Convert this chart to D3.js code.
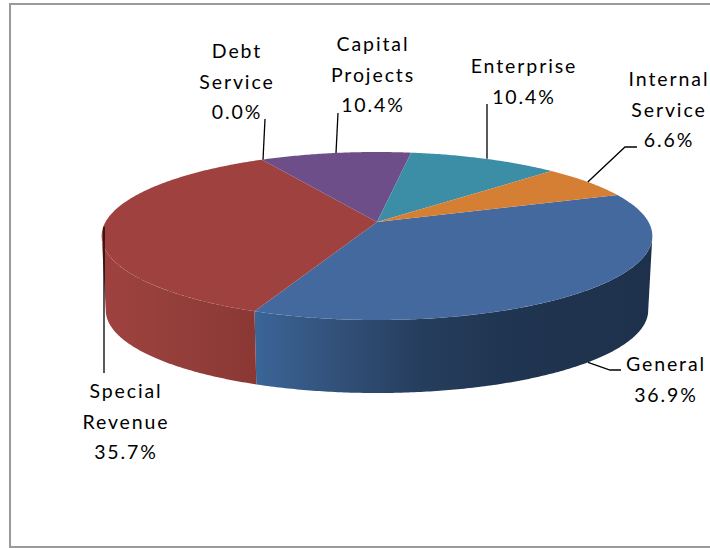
<!DOCTYPE html>
<html>
<head>
<meta charset="utf-8">
<script src="https://cdn.jsdelivr.net/npm/d3@7/dist/d3.min.js"></script>
<style>
html, body { margin: 0; padding: 0; background: #fff; overflow: hidden; }
svg { display: block; }
text { font-family: "Lato", sans-serif; font-size: 19.5px; fill: #000; letter-spacing: 1.9px; }
</style>
</head>
<body>
<svg id="chart" width="710" height="548"></svg>
<script>
// Fund shares, clockwise from General
const funds = ["General", "Special Revenue", "Debt Service", "Capital Projects", "Enterprise", "Internal Service"];
const shares = [36.9, 35.7, 0.0, 10.4, 10.4, 6.6];
const topColors = ["#44699e", "#9f413e", "#8a5a8a", "#6d4e88", "#3c8da6", "#d57f35"];

// Wrapped label text, with the centre and first baseline of each block
const labelLines = [
  ["General", "36.9%"],
  ["Special", "Revenue", "35.7%"],
  ["Debt", "Service", "0.0%"],
  ["Capital", "Projects", "10.4%"],
  ["Enterprise", "10.4%"],
  ["Internal", "Service", "6.6%"]
];
const labelAnchors = [[666, 371], [126, 398], [237, 58], [373, 51], [524, 73], [669, 86]];
const leaderEnds = [[[610, 370], [621, 370]], [[104, 373]], [[265, 119]], [[338, 113]], [[487, 104]], [[625, 147], [637, 147]]];

const svg = d3.select("#chart");
const startAngle = -20.4 * Math.PI / 180;

// Perspective view of the disc: near edge larger, far edge smaller
const apexX = 377, apexY = 222, radius = 271.5, tilt = 81.67, persp = 1 / 6, depth = 74.5, shrink = 0.985;
function project(angle, bottom) {
  const u = Math.cos(angle), v = Math.sin(angle), w = 1 - persp * v;
  const s = bottom ? shrink : 1;
  return [apexX + s * radius * u / w, apexY + (bottom ? depth : 0) + s * tilt * v / w];
}
function rim(a0, a1, bottom) {
  const n = Math.max(2, Math.ceil(Math.abs(a1 - a0) / 0.01));
  return d3.range(n + 1).map(i => project(a0 + (a1 - a0) * i / n, bottom));
}
const path = d3.line();

const arcs = d3.pie().sort(null).value(d => d).startAngle(startAngle).endAngle(startAngle + 2 * Math.PI)(shares);

// Chart frame; its right edge lies past the page
svg.append("rect").attr("x", 10).attr("y", 4).attr("width", 720).attr("height", 543)
  .attr("fill", "#fff").attr("stroke", "#9a9a9a").attr("stroke-width", 2);

// Side wall shading, left to right across each wall
const defs = svg.append("defs");
const sideStops = {
  0: [[253, "#3b6699"], [290, "#375c8a"], [350, "#304e74"], [420, "#263e5e"], [500, "#203551"], [655, "#1e314c"]],
  1: [[100, "#a0423f"], [160, "#96403c"], [253, "#8b3835"]]
};
Object.entries(sideStops).forEach(([i, stops]) => {
  const xs = stops.map(s => s[0]);
  const g = defs.append("linearGradient").attr("id", "side" + i)
    .attr("gradientUnits", "userSpaceOnUse")
    .attr("x1", xs[0]).attr("x2", xs[xs.length - 1]).attr("y1", 0).attr("y2", 0);
  stops.forEach(s => g.append("stop")
    .attr("offset", (s[0] - xs[0]) / (xs[xs.length - 1] - xs[0]))
    .attr("stop-color", s[1]));
});

// The wall shows between the two points where the rim turns back
const silhouette = Math.asin(persp);
arcs.forEach((a, i) => {
  if (!sideStops[i]) return;
  const from = Math.max(a.startAngle, silhouette);
  const to = Math.min(a.endAngle, Math.PI - silhouette);
  const pts = rim(from, to, false).concat(rim(to, from, true));
  svg.append("path").attr("d", path(pts) + "Z").attr("fill", `url(#side${i})`);
});

// Top face slices
arcs.forEach((a, i) => {
  if (a.endAngle - a.startAngle < 1e-6) return;
  const pts = [[apexX, apexY]].concat(rim(a.startAngle, a.endAngle, false));
  svg.append("path").attr("d", path(pts) + "Z").attr("fill", topColors[i]);
});

// Leaders from each slice's rim to its label; near-vertical ones are straightened
arcs.forEach((a, i) => {
  const mid = (a.startAngle + a.endAngle) / 2;
  const start = project(mid, i === 0);
  const next = leaderEnds[i][0];
  if (Math.abs(start[0] - next[0]) < 4) start[0] = next[0] - (i === 2 || i === 3 ? 2 : 0);
  const pts = [start].concat(leaderEnds[i]);
  svg.append("path").attr("d", path(pts)).attr("fill", "none").attr("stroke", "#000").attr("stroke-width", 1.3);
});

// Labels
labelLines.forEach((lines, i) => {
  const t = svg.append("text").attr("text-anchor", "middle");
  lines.forEach((line, j) => t.append("tspan")
    .attr("x", labelAnchors[i][0])
    .attr("y", labelAnchors[i][1] + j * 30.5)
    .text(line));
});
</script>
</body>
</html>
